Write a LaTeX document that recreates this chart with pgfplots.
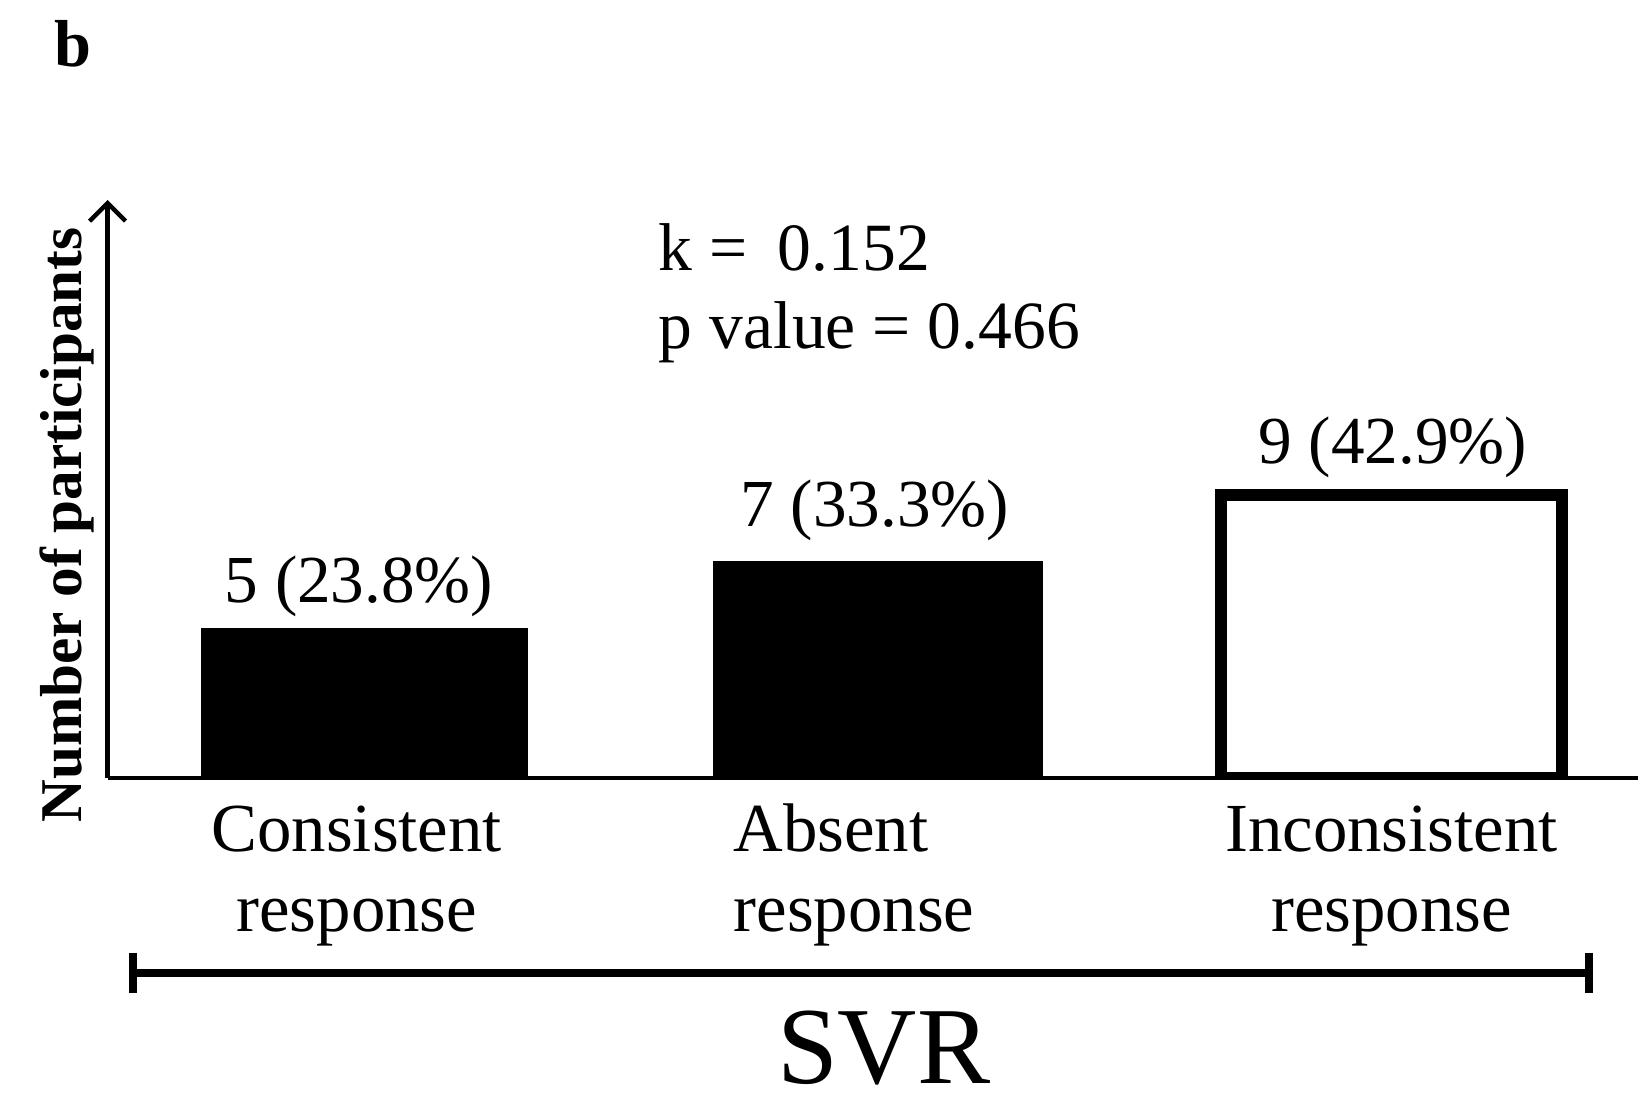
\documentclass[border=0pt]{standalone}
\usepackage{fontspec}
\setmainfont{Liberation Serif}
\usepackage{pgfplots}
\pgfplotsset{compat=1.18}
\usetikzlibrary{arrows.meta}
\begin{document}
\begin{tikzpicture}
\useasboundingbox (0,0) rectangle (409.5pt,277pt);
\begin{axis}[
  at={(26.9pt,82.5pt)}, anchor=south west,
  scale only axis, width=382.6pt, height=144.5pt,
  xmin=-0.5, xmax=2.48, ymin=0.5, ymax=17.83,
  axis x line=bottom, axis y line=left,
  x axis line style={-, line width=1.2pt},
  y axis line style={-{Straight Barb[length=4.5pt,width=9pt]}, line width=1.1pt},
  ytick=\empty, xtick={0,1,2}, major tick length=0pt,
  xticklabels={
    {\hspace*{-3.8pt}\begin{tabular}[t]{@{}c@{}}Consistent\\response\end{tabular}},
    {\hspace*{-12pt}\begin{tabular}[t]{@{}l@{}}Absent\\response\end{tabular}},
    {\begin{tabular}[t]{@{}c@{}}Inconsistent\\response\end{tabular}}},
  xticklabel style={anchor=base, yshift=-18.3pt, inner sep=0pt, font=\fontsize{17.2}{20}\selectfont},
  ybar, bar shift=0pt,
  nodes near coords, point meta=explicit symbolic,
  nodes near coords style={anchor=base, inner sep=0pt, font=\fontsize{16.8}{20}\selectfont},
]
\addplot[fill=black, draw=none, bar width=81.9pt, nodes near coords style={yshift=6.45pt, xshift=-1.35pt}]
  coordinates {(0,5) [5 (23.8\%)]};
\addplot[fill=black, draw=none, bar width=82.5pt, nodes near coords style={yshift=8.8pt, xshift=-0.75pt}]
  coordinates {(1,7) [7 (33.3\%)]};
\addplot[fill=white, draw=black, line width=3pt, bar width=85.3pt, nodes near coords style={yshift=7.85pt, xshift=0.35pt}]
  coordinates {(2,9) [9 (42.9\%)]};
\end{axis}
\node[anchor=base west, inner sep=0pt, font=\fontsize{16.6}{20}\selectfont\bfseries] at (13.3pt,260.3pt) {b};
\node[rotate=90, anchor=base, inner sep=0pt, font=\fontsize{14.8}{18}\selectfont\bfseries] at (20.4pt,145.75pt) {Number of participants};
\node[anchor=base west, inner sep=0pt, font=\fontsize{16.9}{20}\selectfont] at (164.5pt,209.5pt) {k =\hspace{0.45em}0.152};
\node[anchor=base west, inner sep=0pt, font=\fontsize{16.9}{20}\selectfont] at (164.5pt,190pt) {p value = 0.466};
\draw[line width=2pt] (33.25pt,33.75pt) -- (397.25pt,33.75pt);
\draw[line width=2pt] (33.25pt,28.75pt) -- (33.25pt,38.75pt);
\draw[line width=2pt] (397.25pt,28.75pt) -- (397.25pt,38.75pt);
\node[anchor=base, inner sep=0pt, font=\fontsize{27.4}{30}\selectfont] at (220.9pt,6.2pt) {SVR};
\end{tikzpicture}
\end{document}
